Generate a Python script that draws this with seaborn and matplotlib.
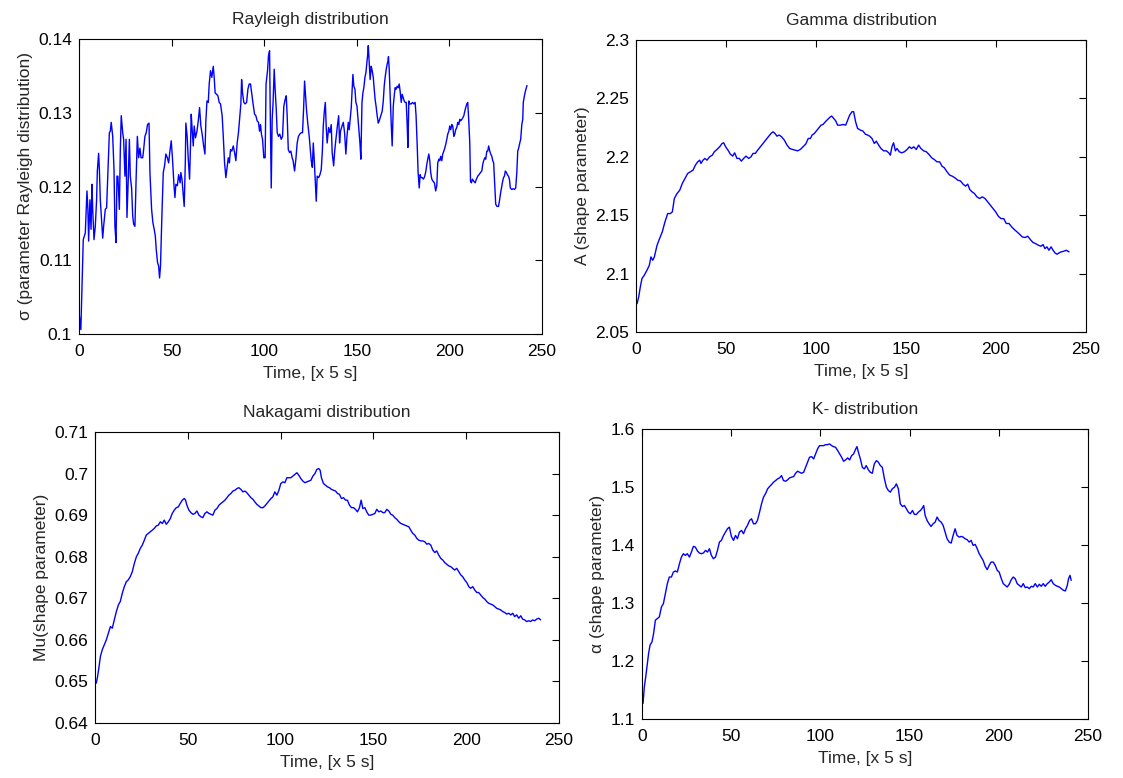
import matplotlib
matplotlib.use("Agg")
import matplotlib.pyplot as plt
import seaborn as sns
import numpy as np
from matplotlib.ticker import FuncFormatter

# ---------------- data (time in units of 5 s, parameter value) ----------------
rayleigh_pts = [
    (0.2,0.1025),(1.0,0.1006),(1.6,0.1065),(2.3,0.1128),(3.4,0.1137),(3.8,0.1164),(4.3,0.1194),(4.8,0.1169),
    (5.2,0.1126),(5.9,0.1182),(6.5,0.1142),(7.0,0.1203),(7.4,0.1169),(8.1,0.1128),(8.8,0.1146),(9.5,0.1182),
    (9.9,0.1221),(10.6,0.1245),(11.0,0.1223),(11.5,0.1182),(12.2,0.1155),(12.8,0.1130),(13.3,0.1146),(14.2,0.1169),
    (14.9,0.1171),(15.6,0.1219),(16.4,0.1273),(16.9,0.1275),(17.4,0.1287),(18.2,0.1268),(18.9,0.1223),(19.4,0.1146),
    (20.0,0.1124),(20.5,0.1214),(21.0,0.1214),(21.8,0.1169),(22.3,0.1248),(22.8,0.1296),(23.6,0.1273),(24.1,0.1264),
    (24.8,0.1214),(25.4,0.1264),(25.9,0.1158),(26.6,0.1210),(27.2,0.1264),(27.7,0.1214),(28.4,0.1198),(29.0,0.1160),
    (29.5,0.1149),(30.2,0.1146),(30.8,0.1207),(31.5,0.1268),(32.2,0.1239),(32.9,0.1252),(33.5,0.1239),(34.4,0.1239),
    (34.9,0.1250),(35.6,0.1268),(36.3,0.1273),(37.0,0.1284),(37.8,0.1286),(38.3,0.1219),(39.2,0.1169),(39.9,0.1151),
    (40.6,0.1142),(41.2,0.1133),(41.7,0.1115),(42.4,0.1097),(43.0,0.1092),(43.5,0.1076),(44.0,0.1092),(44.8,0.1164),
    (45.5,0.1219),(46.2,0.1228),(46.9,0.1244),(47.7,0.1239),(48.4,0.1232),(49.1,0.1248),(49.8,0.1262),(50.5,0.1237),
    (51.3,0.1201),(51.8,0.1185),(52.3,0.1203),(53.1,0.1201),(53.8,0.1216),(54.6,0.1205),(55.0,0.1219),(55.6,0.1210),
    (56.3,0.1189),(56.8,0.1173),(57.4,0.1232),(57.7,0.1286),(58.4,0.1268),(59.0,0.1237),(59.7,0.1210),(60.2,0.1255),
    (60.6,0.1298),(61.1,0.1277),(61.7,0.1255),(62.2,0.1282),(62.9,0.1266),(63.7,0.1275),(64.4,0.1289),(65.1,0.1307),
    (65.8,0.1282),(66.5,0.1271),(67.3,0.1255),(68.0,0.1244),(68.5,0.1289),(69.1,0.1316),(69.8,0.1314),(70.3,0.1339),
    (71.0,0.1357),(71.7,0.1348),(72.5,0.1363),(73.0,0.1348),(73.5,0.1327),(74.3,0.1325),(75.0,0.1323),(75.7,0.1314),
    (76.4,0.1312),(77.3,0.1296),(77.9,0.1268),(78.6,0.1232),(79.3,0.1212),(80.0,0.1226),(80.6,0.1239),(81.2,0.1232),
    (81.8,0.1250),(82.5,0.1248),(83.3,0.1255),(84.0,0.1246),(84.7,0.1235),(85.4,0.1259),(86.1,0.1273),(86.9,0.1296),
    (87.4,0.1312),(87.8,0.1345),(88.3,0.1327),(89.0,0.1314),(89.7,0.1312),(90.5,0.1314),(91.2,0.1332),(91.9,0.1339),
    (92.6,0.1339),(93.3,0.1325),(94.0,0.1312),(94.8,0.1298),(95.5,0.1296),(96.2,0.1289),(96.9,0.1287),(97.5,0.1275),
    (98.0,0.1284),(98.5,0.1271),(99.1,0.1264),(99.8,0.1239),(100.5,0.1239),(101.0,0.1339),(101.8,0.1357),(102.3,0.1377),
    (102.9,0.1384),(103.2,0.1314),(103.8,0.1198),(104.3,0.1291),(104.8,0.1314),(105.4,0.1359),(105.9,0.1332),(106.5,0.1305),
    (107.0,0.1273),(107.7,0.1268),(108.4,0.1271),(109.2,0.1264),(109.9,0.1268),(110.6,0.1309),(111.3,0.1318),(111.9,0.1323),
    (112.4,0.1296),(113.0,0.1250),(113.7,0.1246),(114.4,0.1248),(115.1,0.1239),(115.6,0.1235),(116.4,0.1221),(117.1,0.1237),
    (117.8,0.1259),(118.5,0.1268),(119.2,0.1271),(120.0,0.1273),(120.7,0.1273),(121.3,0.1307),(121.8,0.1343),(122.4,0.1320),
    (122.9,0.1302),(123.6,0.1284),(124.3,0.1268),(124.9,0.1250),(125.4,0.1235),(126.0,0.1226),(126.5,0.1259),(127.0,0.1237),
    (127.6,0.1205),(128.1,0.1180),(128.6,0.1214),(129.4,0.1212),(130.1,0.1216),(130.8,0.1223),(131.4,0.1248),(131.9,0.1282),
    (132.4,0.1300),(133.0,0.1314),(133.5,0.1280),(134.0,0.1259),(134.8,0.1280),(135.5,0.1273),(136.2,0.1284),(136.7,0.1246),
    (137.5,0.1228),(138.0,0.1246),(138.5,0.1259),(139.1,0.1273),(139.6,0.1284),(140.2,0.1296),(140.7,0.1259),(141.2,0.1275),
    (142.0,0.1282),(142.7,0.1287),(143.4,0.1273),(144.1,0.1244),(144.7,0.1268),(145.4,0.1287),(145.9,0.1277),(146.5,0.1293),
    (147.0,0.1307),(147.5,0.1332),(147.9,0.1352),(148.4,0.1336),(149.0,0.1332),(149.5,0.1314),(150.1,0.1309),(150.6,0.1293),
    (151.1,0.1277),(151.7,0.1259),(152.2,0.1237),(152.8,0.1314),(153.3,0.1327),(153.8,0.1334),(154.4,0.1348),(154.9,0.1354),
    (155.5,0.1370),(155.8,0.1377),(156.2,0.1391),(156.7,0.1368),(157.2,0.1345),(157.8,0.1363),(158.3,0.1357),(158.9,0.1348),
    (159.4,0.1332),(159.9,0.1318),(160.5,0.1307),(161.0,0.1296),(161.6,0.1286),(162.1,0.1289),(162.6,0.1293),(163.2,0.1298),
    (163.7,0.1302),(164.3,0.1316),(164.8,0.1336),(165.3,0.1348),(165.9,0.1359),(166.4,0.1366),(166.8,0.1370),(167.1,0.1376),
    (167.5,0.1359),(168.0,0.1323),(168.6,0.1284),(169.1,0.1255),(169.7,0.1309),(170.2,0.1323),(170.7,0.1334),(171.3,0.1332),
    (171.8,0.1336),(172.4,0.1334),(172.9,0.1339),(173.4,0.1329),(174.0,0.1314),(174.5,0.1325),(175.1,0.1320),(175.6,0.1316),
    (176.1,0.1314),(176.7,0.1314),(177.2,0.1284),(177.6,0.1253),(178.1,0.1316),(178.6,0.1312),(179.4,0.1312),(180.1,0.1314),
    (180.8,0.1312),(181.5,0.1314),(182.0,0.1296),(182.6,0.1257),(183.1,0.1219),(183.7,0.1198),(184.2,0.1216),(184.7,0.1212),
    (185.3,0.1212),(186.0,0.1210),(186.7,0.1214),(187.3,0.1221),(187.8,0.1230),(188.3,0.1237),(188.9,0.1244),(189.4,0.1235),
    (189.9,0.1219),(190.5,0.1210),(191.2,0.1207),(191.9,0.1205),(192.6,0.1194),(193.2,0.1201),(193.7,0.1232),(194.3,0.1237),
    (194.8,0.1235),(195.3,0.1241),(195.9,0.1235),(196.4,0.1244),(197.0,0.1248),(197.5,0.1252),(198.0,0.1257),(198.6,0.1264),
    (199.1,0.1271),(199.7,0.1275),(200.2,0.1282),(200.7,0.1277),(201.3,0.1284),(201.8,0.1282),(202.4,0.1268),(202.9,0.1271),
    (203.4,0.1277),(204.0,0.1280),(204.5,0.1287),(205.1,0.1284),(205.6,0.1291),(206.1,0.1289),(206.7,0.1291),(207.2,0.1293),
    (207.8,0.1296),(208.3,0.1302),(208.8,0.1307),(209.4,0.1312),(209.9,0.1314),(210.5,0.1287),(211.0,0.1259),(211.4,0.1207),
    (211.9,0.1205),(212.4,0.1210),(213.2,0.1207),(213.9,0.1205),(214.6,0.1210),(215.3,0.1214),(216.0,0.1216),(216.8,0.1219),
    (217.5,0.1221),(218.0,0.1230),(218.5,0.1235),(219.1,0.1239),(219.6,0.1237),(220.2,0.1248),(220.7,0.1248),(221.2,0.1255),
    (221.8,0.1248),(222.3,0.1244),(222.9,0.1241),(223.4,0.1235),(223.9,0.1232),(224.5,0.1203),(225.0,0.1176),(225.7,0.1173),
    (226.5,0.1173),(227.0,0.1180),(227.5,0.1189),(228.1,0.1198),(228.6,0.1205),(229.2,0.1212),(229.7,0.1214),(230.2,0.1221),
    (230.8,0.1219),(231.3,0.1216),(231.9,0.1214),(232.4,0.1210),(232.9,0.1198),(233.7,0.1196),(234.4,0.1197),(235.1,0.1196),
    (235.8,0.1198),(236.4,0.1219),(236.9,0.1248),(237.4,0.1252),(238.0,0.1259),(238.5,0.1264),(239.1,0.1284),(239.6,0.1291),
    (239.9,0.1314),(240.5,0.1323),(241.0,0.1329),(241.6,0.1334),(241.9,0.1337),
]

gamma_pts = [
    (0.6,2.0743),(1.5,2.0800),(2.4,2.0886),(3.3,2.0957),(4.6,2.0986),(6.1,2.1029),(7.4,2.1071),(8.3,2.1143),
    (9.3,2.1114),(10.2,2.1143),(11.7,2.1243),(13.1,2.1300),(14.6,2.1357),(16.1,2.1443),(17.6,2.1514),(19.1,2.1514),
    (20.2,2.1529),(21.3,2.1643),(22.8,2.1686),(24.3,2.1714),(25.7,2.1771),(27.2,2.1814),(28.7,2.1857),(30.2,2.1871),
    (31.7,2.1886),(33.0,2.1929),(34.3,2.1957),(35.4,2.1971),(36.1,2.1943),(37.2,2.1971),(38.3,2.1986),(39.4,2.1971),
    (40.9,2.2000),(42.4,2.2014),(43.5,2.2043),(45.0,2.2063),(46.5,2.2086),(47.8,2.2114),(48.7,2.2120),(49.8,2.2086),
    (51.1,2.2057),(52.4,2.2023),(53.7,2.2006),(54.8,2.2034),(56.1,2.1986),(57.4,2.1986),(58.5,2.1963),(59.8,2.1986),
    (61.1,2.2006),(62.6,2.1986),(63.9,2.2000),(65.0,2.2029),(66.3,2.2029),(67.6,2.2057),(69.1,2.2086),(70.6,2.2114),
    (72.0,2.2143),(73.5,2.2171),(75.0,2.2200),(76.1,2.2214),(77.2,2.2200),(78.3,2.2177),(79.6,2.2186),(80.9,2.2171),
    (82.4,2.2143),(83.9,2.2100),(85.4,2.2071),(86.9,2.2063),(88.3,2.2057),(89.8,2.2051),(91.3,2.2063),(92.8,2.2086),
    (94.3,2.2109),(95.7,2.2157),(96.9,2.2157),(97.8,2.2186),(99.1,2.2200),(100.6,2.2229),(101.7,2.2249),(102.8,2.2271),
    (103.9,2.2277),(105.2,2.2300),(106.5,2.2320),(107.6,2.2337),(108.7,2.2349),(109.8,2.2329),(110.9,2.2309),(112.0,2.2271),
    (113.5,2.2271),(115.0,2.2277),(116.5,2.2271),(117.6,2.2314),(118.7,2.2357),(120.0,2.2386),(120.9,2.2386),(122.0,2.2300),
    (123.1,2.2243),(124.6,2.2229),(126.1,2.2220),(127.4,2.2194),(128.7,2.2186),(129.8,2.2177),(131.1,2.2157),(132.4,2.2114),
    (133.5,2.2134),(134.8,2.2100),(136.1,2.2071),(137.6,2.2051),(139.1,2.2051),(140.4,2.2034),(141.3,2.2014),(142.2,2.2086),
    (143.1,2.2120),(144.1,2.2051),(145.0,2.2071),(146.3,2.2043),(147.6,2.2034),(149.1,2.2043),(150.6,2.2063),(151.9,2.2086),
    (153.1,2.2071),(154.3,2.2086),(155.7,2.2063),(157.0,2.2100),(158.3,2.2071),(159.8,2.2051),(161.3,2.2043),(162.8,2.2020),
    (164.3,2.1991),(165.7,2.1977),(167.2,2.1957),(168.7,2.1957),(170.0,2.1920),(171.3,2.1906),(172.8,2.1871),(174.3,2.1843),
    (175.7,2.1834),(177.2,2.1820),(178.7,2.1800),(180.2,2.1794),(181.7,2.1766),(183.1,2.1749),(184.3,2.1766),(185.4,2.1720),
    (186.7,2.1700),(188.0,2.1686),(189.4,2.1657),(190.9,2.1643),(192.4,2.1657),(193.9,2.1643),(195.4,2.1614),(196.9,2.1586),
    (198.3,2.1557),(199.8,2.1529),(201.3,2.1491),(202.8,2.1471),(204.3,2.1471),(205.7,2.1429),(207.2,2.1429),(208.7,2.1400),
    (210.2,2.1377),(211.7,2.1357),(213.1,2.1337),(214.6,2.1314),(216.1,2.1309),(217.6,2.1320),(219.1,2.1291),(220.6,2.1266),
    (222.0,2.1257),(223.5,2.1243),(225.0,2.1234),(226.1,2.1249),(227.2,2.1214),(228.3,2.1229),(229.4,2.1200),(230.6,2.1229),
    (231.7,2.1200),(232.8,2.1177),(233.9,2.1166),(235.0,2.1177),(236.1,2.1186),(237.6,2.1191),(239.1,2.1200),(240.6,2.1186),
]

nakagami_pts = [
    (0.7,0.6496),(1.4,0.6512),(2.2,0.6536),(2.9,0.6560),(3.9,0.6576),(5.0,0.6588),(6.1,0.6600),(7.2,0.6616),
    (8.3,0.6632),(9.3,0.6628),(10.4,0.6648),(11.5,0.6668),(12.6,0.6684),(13.6,0.6692),(14.7,0.6712),(15.8,0.6728),
    (16.9,0.6740),(17.9,0.6744),(19.0,0.6752),(20.1,0.6764),(21.2,0.6784),(22.3,0.6800),(23.3,0.6808),(24.4,0.6820),
    (25.5,0.6828),(26.6,0.6840),(27.6,0.6852),(28.7,0.6856),(29.8,0.6860),(30.9,0.6864),(31.9,0.6868),(33.0,0.6874),
    (34.1,0.6876),(35.2,0.6884),(36.3,0.6880),(37.3,0.6888),(38.4,0.6878),(39.5,0.6884),(40.6,0.6892),(41.6,0.6904),
    (42.7,0.6912),(43.8,0.6918),(44.9,0.6920),(45.9,0.6928),(47.0,0.6936),(48.1,0.6940),(48.8,0.6936),(49.5,0.6924),
    (50.6,0.6912),(51.7,0.6906),(52.8,0.6902),(53.8,0.6904),(54.9,0.6910),(56.0,0.6900),(57.1,0.6896),(58.1,0.6894),
    (59.2,0.6904),(60.3,0.6908),(61.4,0.6904),(62.5,0.6902),(63.5,0.6900),(64.6,0.6912),(65.7,0.6916),(66.8,0.6924),
    (67.8,0.6928),(68.9,0.6932),(70.0,0.6936),(71.1,0.6942),(72.1,0.6948),(73.2,0.6952),(74.3,0.6958),(75.4,0.6960),
    (76.5,0.6964),(77.5,0.6966),(78.6,0.6962),(79.7,0.6956),(80.8,0.6958),(81.8,0.6954),(82.9,0.6948),(84.0,0.6942),
    (85.1,0.6938),(86.1,0.6932),(87.2,0.6926),(88.3,0.6922),(89.4,0.6918),(90.5,0.6918),(91.5,0.6922),(92.6,0.6928),
    (93.7,0.6934),(94.8,0.6940),(95.8,0.6944),(96.9,0.6956),(98.0,0.6948),(99.1,0.6960),(100.1,0.6976),(101.2,0.6980),
    (102.3,0.6978),(103.4,0.6990),(104.5,0.6990),(105.5,0.6990),(106.6,0.6994),(107.7,0.6998),(108.8,0.7002),(109.8,0.6996),
    (110.9,0.6988),(112.0,0.6982),(113.1,0.6978),(114.1,0.6980),(115.2,0.6982),(116.3,0.6984),(117.4,0.6994),(118.5,0.7000),
    (119.5,0.7010),(120.6,0.7012),(121.3,0.7008),(122.0,0.6990),(123.1,0.6976),(124.2,0.6972),(125.3,0.6968),(126.3,0.6966),
    (127.4,0.6962),(128.5,0.6960),(129.6,0.6958),(130.7,0.6952),(131.7,0.6950),(132.8,0.6940),(133.9,0.6942),(135.0,0.6936),
    (136.0,0.6936),(137.1,0.6924),(138.2,0.6918),(139.3,0.6918),(140.3,0.6914),(141.4,0.6908),(142.5,0.6918),(143.4,0.6936),
    (144.3,0.6916),(145.4,0.6918),(146.4,0.6908),(147.5,0.6900),(148.6,0.6900),(149.7,0.6902),(150.8,0.6904),(151.8,0.6914),
    (152.9,0.6908),(154.0,0.6910),(155.1,0.6906),(156.1,0.6906),(157.2,0.6914),(158.3,0.6910),(159.4,0.6902),(160.4,0.6900),
    (161.5,0.6894),(162.6,0.6890),(163.7,0.6884),(164.8,0.6880),(165.8,0.6878),(166.9,0.6876),(168.0,0.6874),(169.1,0.6872),
    (170.1,0.6864),(171.2,0.6856),(172.3,0.6852),(173.4,0.6844),(174.4,0.6840),(175.5,0.6838),(176.6,0.6838),(177.7,0.6836),
    (178.8,0.6830),(179.8,0.6832),(180.9,0.6828),(182.0,0.6816),(183.1,0.6810),(184.1,0.6814),(185.2,0.6804),(186.3,0.6796),
    (187.4,0.6792),(188.4,0.6786),(189.5,0.6782),(190.6,0.6778),(191.7,0.6776),(192.7,0.6772),(193.8,0.6768),(194.9,0.6772),
    (196.0,0.6764),(197.1,0.6756),(198.1,0.6752),(199.2,0.6744),(200.3,0.6738),(201.4,0.6728),(202.4,0.6724),(203.5,0.6728),
    (204.6,0.6720),(205.7,0.6714),(206.7,0.6714),(207.8,0.6708),(208.9,0.6702),(210.0,0.6698),(211.1,0.6692),(212.1,0.6688),
    (213.2,0.6686),(214.3,0.6684),(215.4,0.6680),(216.4,0.6676),(217.5,0.6674),(218.6,0.6672),(219.7,0.6668),(220.7,0.6666),
    (221.8,0.6662),(222.9,0.6664),(224.0,0.6660),(225.1,0.6664),(226.1,0.6656),(227.2,0.6660),(228.3,0.6652),(229.4,0.6658),
    (230.4,0.6650),(231.5,0.6648),(232.6,0.6644),(233.7,0.6646),(234.7,0.6644),(235.8,0.6648),(236.9,0.6646),(238.0,0.6650),
    (239.1,0.6652),(240.1,0.6648),
]

k_pts = [
    (0.6,1.1270),(1.3,1.1556),(2.1,1.1728),(3.0,1.1958),(3.7,1.2130),(4.5,1.2273),(5.6,1.2330),(6.5,1.2474),
    (7.5,1.2703),(8.6,1.2732),(9.7,1.2760),(10.9,1.2932),(12.0,1.2990),(13.1,1.3162),(14.2,1.3334),(15.3,1.3448),
    (16.5,1.3448),(17.6,1.3534),(18.7,1.3552),(19.8,1.3534),(21.0,1.3678),(22.1,1.3792),(23.2,1.3850),(24.3,1.3821),
    (25.4,1.3850),(26.6,1.3792),(27.7,1.3878),(28.8,1.3976),(29.9,1.3964),(31.1,1.3896),(32.2,1.3861),(33.3,1.3850),
    (34.4,1.3861),(35.6,1.3907),(36.7,1.3878),(37.8,1.3936),(38.9,1.3821),(40.0,1.3764),(41.2,1.3792),(42.3,1.3907),
    (43.4,1.4050),(44.5,1.4079),(45.7,1.4165),(46.8,1.4222),(47.9,1.4280),(49.0,1.4308),(50.1,1.4148),(51.3,1.4079),
    (52.4,1.4165),(53.5,1.4108),(54.6,1.4222),(55.8,1.4251),(56.9,1.4194),(58.0,1.4280),(59.1,1.4337),(60.3,1.4423),
    (61.4,1.4452),(62.5,1.4366),(63.6,1.4366),(64.7,1.4423),(65.9,1.4567),(67.0,1.4710),(68.1,1.4825),(69.2,1.4882),
    (70.4,1.4968),(71.5,1.5008),(72.6,1.5042),(73.7,1.5083),(74.9,1.5111),(76.0,1.5140),(77.1,1.5157),(78.2,1.5197),
    (79.3,1.5111),(80.5,1.5100),(81.6,1.5123),(82.7,1.5157),(83.8,1.5169),(85.0,1.5180),(86.1,1.5237),(87.2,1.5272),
    (88.3,1.5254),(89.4,1.5237),(90.6,1.5254),(91.7,1.5340),(92.8,1.5427),(93.9,1.5513),(95.1,1.5524),(96.2,1.5484),
    (97.3,1.5570),(98.4,1.5656),(99.5,1.5713),(100.7,1.5713),(101.8,1.5713),(102.9,1.5730),(104.0,1.5730),(105.2,1.5742),
    (106.3,1.5713),(107.4,1.5696),(108.5,1.5685),(109.7,1.5627),(110.8,1.5570),(111.9,1.5513),(113.0,1.5444),(114.1,1.5467),
    (115.3,1.5501),(116.4,1.5467),(117.5,1.5541),(118.6,1.5570),(119.8,1.5656),(120.5,1.5696),(121.3,1.5599),(122.4,1.5484),
    (123.5,1.5340),(124.6,1.5312),(125.7,1.5369),(126.9,1.5295),(128.0,1.5254),(129.1,1.5237),(130.2,1.5398),(131.4,1.5455),
    (132.5,1.5427),(133.6,1.5369),(134.7,1.5340),(135.9,1.5140),(137.0,1.4997),(138.1,1.4939),(139.2,1.4911),(140.3,1.4968),
    (141.5,1.4997),(142.6,1.5054),(143.7,1.4968),(144.8,1.4710),(146.0,1.4664),(147.1,1.4681),(148.2,1.4624),(149.3,1.4567),
    (150.4,1.4538),(151.6,1.4595),(152.7,1.4527),(153.8,1.4527),(154.9,1.4567),(156.1,1.4595),(157.2,1.4641),(157.9,1.4681),
    (158.7,1.4509),(159.8,1.4423),(160.9,1.4366),(162.0,1.4320),(163.2,1.4366),(164.3,1.4394),(165.4,1.4481),(166.5,1.4423),
    (167.7,1.4394),(168.8,1.4337),(169.9,1.4222),(171.0,1.4108),(172.2,1.4050),(173.3,1.4033),(174.4,1.4165),(175.5,1.4280),
    (176.6,1.4165),(177.8,1.4136),(178.9,1.4148),(180.0,1.4136),(181.1,1.4108),(182.3,1.4091),(183.4,1.4050),(184.5,1.4079),
    (185.6,1.3993),(186.8,1.4010),(187.9,1.3936),(189.0,1.3850),(190.1,1.3792),(191.2,1.3735),(192.4,1.3632),(193.5,1.3575),
    (194.6,1.3649),(195.7,1.3706),(196.9,1.3706),(198.0,1.3649),(199.1,1.3563),(200.2,1.3534),(201.4,1.3420),(202.5,1.3334),
    (203.6,1.3305),(204.7,1.3276),(205.8,1.3322),(207.0,1.3402),(208.1,1.3448),(209.2,1.3420),(210.3,1.3334),(211.5,1.3305),
    (212.6,1.3276),(213.7,1.3334),(214.8,1.3265),(215.9,1.3276),(217.1,1.3248),(218.2,1.3288),(219.3,1.3276),(220.4,1.3334),
    (221.6,1.3276),(222.7,1.3322),(223.8,1.3288),(224.9,1.3334),(226.0,1.3288),(227.2,1.3334),(228.3,1.3362),(229.4,1.3402),
    (230.5,1.3334),(231.7,1.3305),(232.8,1.3288),(233.9,1.3276),(235.0,1.3248),(236.2,1.3219),(237.3,1.3208),(238.4,1.3305),
    (239.1,1.3420),(239.9,1.3477),(240.6,1.3391),
]

titles = ["Rayleigh distribution", "Gamma distribution", "Nakagami distribution", "K- distribution"]
ylabels = ["\u03c3 (parameter Rayleigh distribution)", "A (shape parameter)",
           "Mu(shape parameter)", "\u03b1 (shape parameter)"]
xlabel = "Time, [x 5 s]"
x_ticks = [0, 50, 100, 150, 200, 250]
y_ticks = [
    [0.10, 0.11, 0.12, 0.13, 0.14],
    [2.05, 2.10, 2.15, 2.20, 2.25, 2.30],
    [0.64, 0.65, 0.66, 0.67, 0.68, 0.69, 0.70, 0.71],
    [1.1, 1.2, 1.3, 1.4, 1.5, 1.6],
]

# ---------------- styling ----------------
sns.set_style("white")
plt.rcParams['font.family'] = ['Liberation Sans', 'DejaVu Sans']
plt.rcParams['font.size'] = 12

W, H = 1123, 778
fig = plt.figure(figsize=(W / 100, H / 100), dpi=100)
fig.patch.set_facecolor('white')

# axes boxes in pixels: left, top, right, bottom
boxes = [(79, 39, 542, 334), (636, 40, 1086, 332), (95, 432, 559, 723), (642, 429, 1088, 719)]
series = [rayleigh_pts, gamma_pts, nakagami_pts, k_pts]

fmt = FuncFormatter(lambda v, p: f"{v:g}")

for i, (box, pts) in enumerate(zip(boxes, series)):
    l, t, r, b = box
    ax = fig.add_axes([l / W, (H - b) / H, (r - l) / W, (b - t) / H])
    tt = [p[0] for p in pts]
    vv = [p[1] for p in pts]
    sns.lineplot(x=tt, y=vv, ax=ax, color='#0000ff', linewidth=1.0, estimator=None, sort=False)
    ax.set_xlim(0, 250)
    ax.set_xticks(x_ticks)
    yt = y_ticks[i]
    ax.set_ylim(yt[0], yt[-1])
    ax.set_yticks(yt)
    ax.yaxis.set_major_formatter(fmt)
    ax.xaxis.set_major_formatter(fmt)
    ax.tick_params(direction='in', length=5, width=0.8, top=True, right=True,
                   labelsize=12.5, colors='black')
    ax.tick_params(axis='x', pad=7)
    ax.tick_params(axis='y', pad=5)
    for s in ax.spines.values():
        s.set_visible(True)
        s.set_color('black')
        s.set_linewidth(0.8)
    ax.set_title(titles[i], fontsize=12.5, pad=11)
    ax.set_xlabel(xlabel, fontsize=12.5, labelpad=5)
    ax.set_ylabel(ylabels[i], fontsize=12.5, labelpad=4)
    ax.set_facecolor('white')

fig.savefig("out.png", dpi=100, facecolor='white')
